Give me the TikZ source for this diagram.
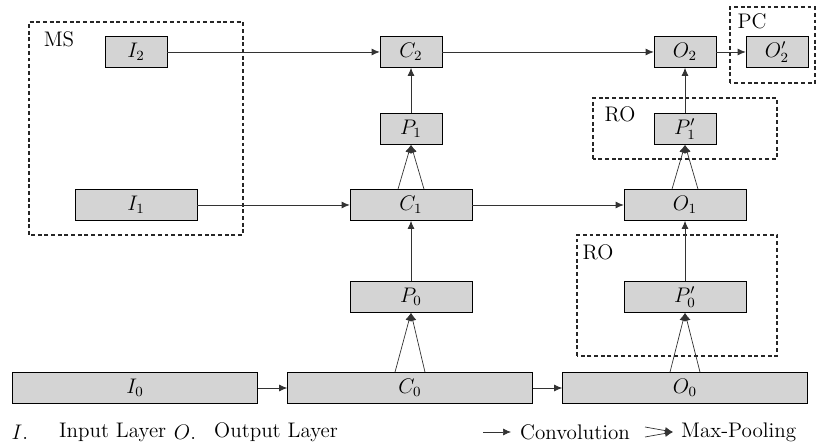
\documentclass[tikz,border=0pt]{standalone}
\usepackage{amsmath, amssymb}
\usepackage{tikz}
\usetikzlibrary{arrows.meta}

\begin{document}
\begin{tikzpicture}[
    font=\fontsize{12}{14}\selectfont,
    box/.style={draw, fill=black!17, minimum height=0.62cm, inner sep=0pt},
    small/.style={box, minimum width=1.24cm},
    medium/.style={box, minimum width=2.44cm},
    large/.style={box, minimum width=4.9cm},
    conv/.style={-{Latex[length=1.6mm, width=1.4mm]}, black!80},
    group/.style={draw, line width=0.7pt, dash pattern=on 2.2pt off 1.6pt, black!85},
]
    \useasboundingbox (0, 0) rectangle (16.34, 8.92);

    % groups
    \draw[group] (0.58, 4.22) rectangle (4.86, 8.48);
    \draw[group] (14.60, 7.26) rectangle (16.30, 8.78);
    \draw[group] (11.86, 5.74) rectangle (15.54, 6.96);
    \draw[group] (11.54, 1.80) rectangle (15.54, 4.22);
    \node at (1.18, 8.14) (ms) {MS};
    \node at (15.04, 8.50) (pc) {PC};
    \node at (12.40, 6.64) (ro1) {RO};
    \node at (11.96, 3.88) (ro0) {RO};

    % layers
    \node[small] at (2.72, 7.88) (I2) {$I_2$};
    \node[small] at (8.22, 7.88) (C2) {$C_2$};
    \node[small] at (13.70, 7.88) (O2) {$O_2$};
    \node[small] at (15.54, 7.88) (O2p) {$O'_2$};
    \node[small] at (8.22, 6.34) (P1) {$P_1$};
    \node[small] at (13.70, 6.34) (P1p) {$P'_1$};
    \node[medium] at (2.72, 4.82) (I1) {$I_1$};
    \node[medium] at (8.22, 4.82) (C1) {$C_1$};
    \node[medium] at (13.70, 4.82) (O1) {$O_1$};
    \node[medium] at (8.22, 2.98) (P0) {$P_0$};
    \node[medium] at (13.70, 2.98) (P0p) {$P'_0$};
    \node[large] at (2.70, 1.16) (I0) {$I_0$};
    \node[large] at (8.20, 1.16) (C0) {$C_0$};
    \node[large] at (13.70, 1.16) (O0) {$O_0$};

    % convolutions
    \draw[conv] (I2) -- (C2);
    \draw[conv] (C2) -- (O2);
    \draw[conv] (O2) -- (O2p);
    \draw[conv] (P1) -- (C2);
    \draw[conv] (P1p) -- (O2);
    \draw[conv] (I1) -- (C1);
    \draw[conv] (C1) -- (O1);
    \draw[conv] (P0) -- (C1);
    \draw[conv] (P0p) -- (O1);
    \draw[conv] (I0) -- (C0);
    \draw[conv] (C0) -- (O0);

    % max-pooling
    \draw[conv] ([xshift=-0.26cm]C1.north) -- (P1.south);
    \draw[conv] ([xshift=0.26cm]C1.north) -- (P1.south);
    \draw[conv] ([xshift=-0.26cm]O1.north) -- (P1p.south);
    \draw[conv] ([xshift=0.26cm]O1.north) -- (P1p.south);
    \draw[conv] ([xshift=-0.3cm]C0.north) -- (P0.south);
    \draw[conv] ([xshift=0.3cm]C0.north) -- (P0.south);
    \draw[conv] ([xshift=-0.3cm]O0.north) -- (P0p.south);
    \draw[conv] ([xshift=0.3cm]O0.north) -- (P0p.south);

    % legend
    \node at (0.40, 0.28) (lgI) {$I.$};
    \node[anchor=west] at (1.06, 0.28) (lgIn) {Input Layer};
    \node at (3.70, 0.28) (lgO) {$O.$};
    \node[anchor=west] at (4.16, 0.28) (lgOut) {Output Layer};
    \coordinate (cvA) at (9.66, 0.28);
    \coordinate (cvB) at (10.22, 0.28);
    \draw[conv] (cvA) -- (cvB);
    \node[anchor=west] at (10.28, 0.28) (lgConv) {Convolution};
    \coordinate (mpA) at (12.90, 0.38);
    \coordinate (mpB) at (12.90, 0.18);
    \coordinate (mpC) at (13.46, 0.28);
    \draw[conv] (mpA) -- (mpC);
    \draw[conv] (mpB) -- (mpC);
    \node[anchor=west] at (13.50, 0.28) (lgPool) {Max-Pooling};
\end{tikzpicture}
\end{document}
